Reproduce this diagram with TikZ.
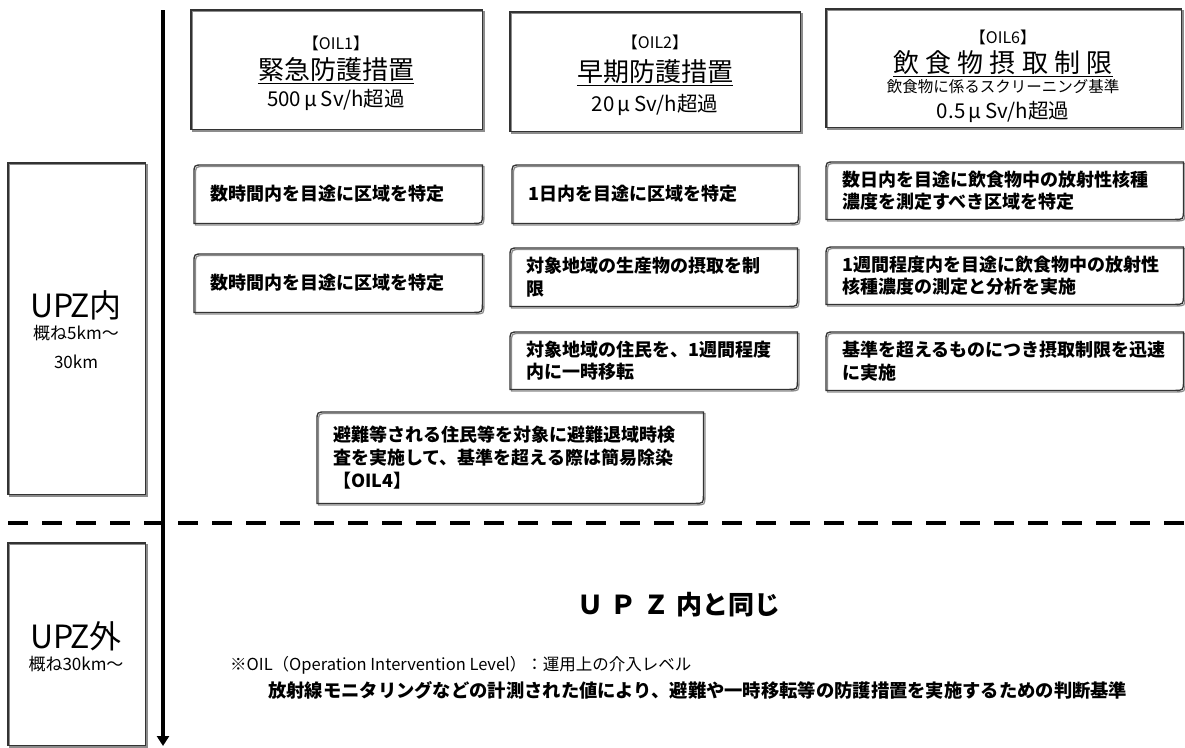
\documentclass[tikz,border=0pt]{standalone}
\usepackage{fontspec}
\setmainfont{Noto Sans CJK JP}
\usetikzlibrary{arrows.meta,calc}
\newcommand\fbody{\fontsize{18}{22.8}\selectfont\bfseries}
\newcommand\rpath[1]{([yshift=-9pt]#1.north west) .. controls (#1.north west) .. ([xshift=9pt]#1.north west) -- (#1.north east) -- ([yshift=9pt]#1.south east) .. controls (#1.south east) .. ([xshift=-9pt]#1.south east) -- (#1.south west) -- cycle}
\newcommand\rbox[1]{\draw[shadowline,transform canvas={shift={(1.5pt,-1.5pt)}}] \rpath{#1}; \draw[boxline] \rpath{#1};}
\newcommand\sqbox[1]{\draw[shadowline,transform canvas={shift={(1.5pt,-1.5pt)}}] (#1.north west) rectangle (#1.south east); \draw[boxline] (#1.north west) rectangle (#1.south east);}
\tikzset{
  boxline/.style={draw=black!80, line width=1.3pt},
  shadowline/.style={draw=black!45, line width=1.3pt},
  txtbox/.style={anchor=north west, inner xsep=16pt, inner ysep=0pt, align=left, font=\fbody},
  frame/.style={anchor=north west, inner sep=0pt},
  ttl/.style={inner sep=0pt, anchor=center},
}
\begin{document}
\begin{tikzpicture}[x=1pt,y=-1pt]
\useasboundingbox (0,0) rectangle (1185,747);
% left zone labels
\node[frame, minimum width=137pt, minimum height=331pt] (upzin) at (8,163) {};
\node[frame, minimum width=137pt, minimum height=202pt] (upzout) at (8,543) {};
\sqbox{upzin}
\sqbox{upzout}
\node[ttl, font=\fontsize{32}{34}\selectfont] (upzinT) at (76,305) {UPZ内};
\node[ttl, font=\fontsize{17}{20}\selectfont] (upzinD) at (76,333) {概ね5km〜};
\node[ttl, font=\fontsize{17}{20}\selectfont] (upzinE) at (76,362) {30km};
\node[ttl, font=\fontsize{32}{34}\selectfont] (upzoutT) at (76,636) {UPZ外};
\node[ttl, font=\fontsize{17}{20}\selectfont] (upzoutD) at (76,664) {概ね30km〜};
% axis arrow and zone separator
\coordinate (atop) at (163,10);
\coordinate (abot) at (163,746);
\draw[line width=3.5pt, -{Triangle[width=12pt,length=10pt]}] (atop) -- (abot);
\coordinate (dl) at (8,523);
\coordinate (dr) at (1185,523);
\draw[line width=4.5pt, dash pattern=on 20pt off 14pt] (dl) -- (dr);
% top OIL boxes
\node[frame, minimum width=291pt, minimum height=119pt] (oil1) at (191,10) {};
\node[frame, minimum width=290pt, minimum height=119pt] (oil2) at (510,12) {};
\node[frame, minimum width=355pt, minimum height=118pt] (oil6) at (826,9) {};
\sqbox{oil1}
\sqbox{oil2}
\sqbox{oil6}
\node[ttl, font=\fontsize{16}{18}\selectfont] (oil1a) at (336,43) {【OIL1】};
\node[ttl, font=\fontsize{26}{28}\selectfont] (oil1b) at (336,70) {緊急防護措置};
\draw[line width=1.2pt] ([yshift=-4pt]oil1b.base west) -- ([yshift=-4pt]oil1b.base east);
\node[ttl, font=\fontsize{20.5}{22}\selectfont] (oil1c) at (336,100) {500\,μ\,Sv/h超過};
\node[ttl, font=\fontsize{16}{18}\selectfont] (oil2a) at (655,42) {【OIL2】};
\node[ttl, font=\fontsize{26}{28}\selectfont] (oil2b) at (655,72) {早期防護措置};
\draw[line width=1.2pt] ([yshift=-4pt]oil2b.base west) -- ([yshift=-4pt]oil2b.base east);
\node[ttl, font=\fontsize{20.5}{22}\selectfont] (oil2c) at (655,105) {20\,μ\,Sv/h超過};
\node[ttl, font=\fontsize{16}{18}\selectfont] (oil6a) at (1003,37) {【OIL6】};
\node[ttl, font=\fontsize{26}{28}\selectfont\addfontfeatures{LetterSpace=24}] (oil6b) at (1003,63) {飲食物摂取制限};
\draw[line width=1.2pt] ([yshift=-4pt]oil6b.base west) -- ([yshift=-4pt]oil6b.base east);
\node[ttl, font=\fontsize{15.5}{17}\selectfont] (oil6c) at (1003,87) {飲食物に係るスクリーニング基準};
\node[ttl, font=\fontsize{20.5}{22}\selectfont] (oil6d) at (1003,112) {0.5\,μ\,Sv/h超過};
% measure boxes
\node[txtbox, text width=256pt, minimum height=58pt] (r1a) at (194,165) {数時間内を目途に区域を特定};
\node[txtbox, text width=254pt, minimum height=58pt] (r1b) at (512,165) {1日内を目途に区域を特定};
\node[txtbox, text width=325pt, minimum height=57pt] (r1c) at (826,162) {数日内を目途に飲食物中の放射性核種\\濃度を測定すべき区域を特定};
\node[txtbox, text width=256pt, minimum height=58pt] (r2a) at (194,254) {数時間内を目途に区域を特定};
\node[txtbox, text width=255pt, minimum height=58pt] (r2b) at (510,248) {対象地域の生産物の摂取を制\\限};
\node[txtbox, text width=325pt, minimum height=57pt] (r2c) at (826,247) {1週間程度内を目途に飲食物中の放射性\\核種濃度の測定と分析を実施};
\node[txtbox, text width=255pt, minimum height=57pt] (r3b) at (510,332) {対象地域の住民を、1週間程度\\内に一時移転};
\node[txtbox, text width=325pt, minimum height=58pt] (r3c) at (826,332) {基準を超えるものにつき摂取制限を迅速\\に実施};
\node[txtbox, text width=354pt, minimum height=91pt] (r4) at (317,412) {避難等される住民等を対象に避難退域時検\\査を実施して、基準を超える際は簡易除染\\【OIL4】};
\rbox{r1a}
\rbox{r1b}
\rbox{r1c}
\rbox{r2a}
\rbox{r2b}
\rbox{r2c}
\rbox{r3b}
\rbox{r3c}
\rbox{r4}
% outside UPZ
\node[ttl, font=\fontsize{26}{28}\selectfont\bfseries] (same) at (679,605) {Ｕ\hspace{7pt}Ｐ\hspace{7pt}Ｚ\hspace{7pt}内と同じ};
\node[anchor=west, inner sep=0pt, font=\fontsize{16.5}{18}\selectfont] (note1) at (230,665) {※OIL（Operation Intervention Level）：運用上の介入レベル};
\node[anchor=west, inner sep=0pt, font=\fontsize{18.3}{20}\selectfont\bfseries] (note2) at (268,690) {放射線モニタリングなどの計測された値により、避難や一時移転等の防護措置を実施するための判断基準};
\end{tikzpicture}
\end{document}
